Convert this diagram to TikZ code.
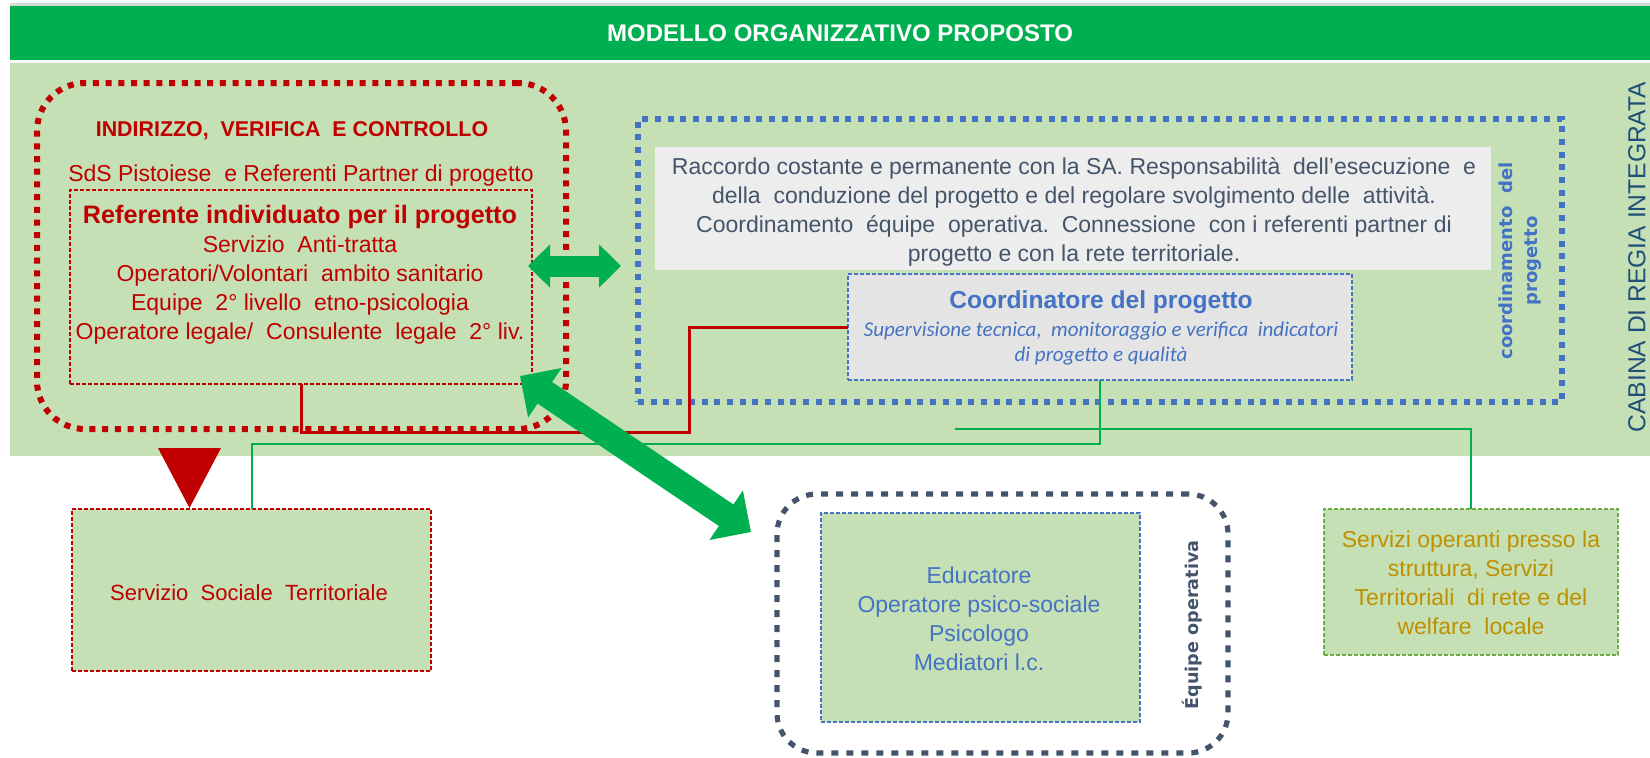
\documentclass[tikz,border=0pt]{standalone}
\usepackage{fontspec}
\setmainfont{Liberation Sans}
\newfontfamily\verdfont{DejaVu Sans}
\newfontfamily\calfont{Carlito}
\usetikzlibrary{arrows.meta,positioning,calc,fit}
\definecolor{hdrgreen}{HTML}{00B050}
\definecolor{panelgreen}{HTML}{C5E0B4}
\definecolor{darkred}{HTML}{C00000}
\definecolor{midblue}{HTML}{4472C4}
\definecolor{slate}{HTML}{44546A}
\definecolor{cabinablue}{HTML}{1F4E79}
\definecolor{palegray}{HTML}{EDEDED}
\definecolor{leadgray}{HTML}{E4E4E4}
\definecolor{mustard}{HTML}{BF9000}
\definecolor{leafgreen}{HTML}{70AD47}

\begin{document}
\begin{tikzpicture}[x=0.5pt, y=-0.5pt, font=\fontsize{11.5}{14.5}\selectfont,
    area/.style={inner sep=0pt, outer sep=0pt},
    reddots/.style={area, draw=darkred, line width=3pt, dash pattern=on 3pt off 3.35pt, rounded corners=24pt},
    bluedots/.style={area, draw=midblue, line width=3pt, dash pattern=on 3pt off 3.35pt},
    teamdots/.style={area, draw=slate, line width=2.6pt, dash pattern=on 3.5pt off 4pt, rounded corners=20pt},
    thindash/.style={area, line width=0.6pt, dash pattern=on 2pt off 1pt},
    redline/.style={draw=darkred, line width=1.5pt},
    greenline/.style={draw=hdrgreen, line width=1pt},
    fatarrow/.style={draw=hdrgreen, line width=10.5pt, {Triangle[width=21pt,length=11pt]}-{Triangle[width=21pt,length=11pt]}},
    bigarrow/.style={draw=hdrgreen, line width=13pt, {Triangle[width=29pt,length=15pt]}-{Triangle[width=29pt,length=15pt]}}]
        \useasboundingbox (0,0) rectangle (1650,757);
        % Header
        \fill [gray!30] (10,3) rectangle (1650,6);
        \node [area, fill=hdrgreen, fit={(10,6) (1650,60)}] (header) {};
        \node [text=white, font=\fontsize{12}{15}\selectfont\bfseries] (headtext) at (840,33) {MODELLO ORGANIZZATIVO PROPOSTO};
        % Cabina di regia
        \node [area, fill=panelgreen, fit={(10,63) (1650,456)}] (cabina) {};
        \node [rotate=90, text=cabinablue, font=\fontsize{12.3}{14}\selectfont] (cabinatext) at (1637,257) {CABINA DI REGIA INTEGRATA};
        % Indirizzo, verifica e controllo
        \node [reddots, fit={(37,83) (566,429)}] (ctrl) {};
        \node [text=darkred, font=\fontsize{10.7}{12}\selectfont\bfseries] (ctrltitle) at (292,131) {INDIRIZZO,\ \ VERIFICA\ \ E CONTROLLO};
        \node [text=darkred] (sds) at (301,176) {SdS Pistoiese\ \ e Referenti Partner di progetto};
        \node [thindash, draw=darkred, fit={(70,190) (532,384)}] (ref) {};
        \node [text=darkred, align=center] (reftext) at (300,275)
            {{\bfseries\fontsize{12.6}{14.5}\selectfont Referente individuato per il progetto}\\
             Servizio\ \ Anti-tratta\\
             Operatori/Volontari\ \ ambito sanitario\\
             Equipe\ \ 2° livello\ \ etno-psicologia\\
             Operatore legale/\ \ Consulente\ \ legale\ \ 2° liv.};
        % Coordinamento del progetto
        \node [bluedots, fit={(638,119) (1562,402)}] (coord) {};
        \node [area, fill=palegray, fit={(655,147) (1491,270)}] (duties) {};
        \node [text=slate, align=center] (dutytext) at (1074,212)
            {Raccordo costante e permanente con la SA. Responsabilità\ \ dell'esecuzione\ \ e\\
             della\ \ conduzione del progetto e del regolare svolgimento delle\ \ attività.\\
             Coordinamento\ \ équipe\ \ operativa.\ \ Connessione\ \ con i referenti partner di\\
             progetto e con la rete territoriale.};
        \node [thindash, draw=midblue, fill=leadgray, fit={(848,274) (1352,380)}] (leader) {};
        \node [text=midblue, font=\fontsize{12.3}{14}\selectfont\bfseries] (leadtitle) at (1101,302) {Coordinatore del progetto};
        \node [text=midblue, align=center, font=\calfont\fontsize{10.5}{12.5}\selectfont\itshape] (leadtext) at (1101,343)
            {Supervisione tecnica,\ \ monitoraggio e verifica\ \ indicatori\\di progetto e qualità};
        \node [rotate=90, text=midblue, align=center, font=\verdfont\fontsize{9}{12.5}\selectfont\bfseries] (coordtext) at (1520,261)
            {coordinamento\ \ del\\progetto};
        % Servizio sociale
        \node [thindash, draw=darkred, fill=panelgreen, fit={(72,509) (431,671)}] (sst) {};
        \node [text=darkred, font=\fontsize{11}{13}\selectfont] (ssttext) at (249,593) {Servizio\ \ Sociale\ \ Territoriale};
        % Equipe operativa
        \node [teamdots, fit={(777,494) (1228,753)}] (team) {};
        \node [thindash, draw=midblue, fill=panelgreen, fit={(821,513) (1140,722)}] (staff) {};
        \node [text=midblue, align=center] (stafftext) at (979,619)
            {Educatore\\Operatore psico-sociale\\Psicologo\\Mediatori l.c.};
        \node [rotate=90, text=slate, font=\verdfont\fontsize{8.8}{10}\selectfont\bfseries] (teamtext) at (1192,625) {Équipe operativa};
        % Servizi di rete
        \node [thindash, draw=leafgreen, fill=panelgreen, fit={(1324,509) (1618,655)}] (net) {};
        \node [text=mustard, align=center] (nettext) at (1471,583)
            {Servizi operanti presso la\\struttura, Servizi\\Territoriali\ \ di rete e del\\welfare\ \ locale};
        % Lines
        \coordinate (r1) at (689,432);
        \coordinate (g1) at (251.5,444);
        \coordinate (g2) at (955,429);
        \draw [redline] (ref.south) |- (r1) |- (leader.west);
        \draw [greenline] (leader.south) |- (g1) -- (sst.north);
        \draw [greenline] (g2) -| (net.north);
        % Arrows
        \coordinate (tip) at (189.5,508);
        \fill [darkred] (tip) -- ++(-31.5,-60) -- ++(63,0) -- cycle;
        \coordinate (h1) at (528,266);
        \coordinate (h2) at (621,266);
        \draw [fatarrow] (h1) -- (h2);
        \coordinate (d1) at (520,376);
        \coordinate (d2) at (751,532);
        \draw [bigarrow] (d1) -- (d2);
\end{tikzpicture}
\end{document}
